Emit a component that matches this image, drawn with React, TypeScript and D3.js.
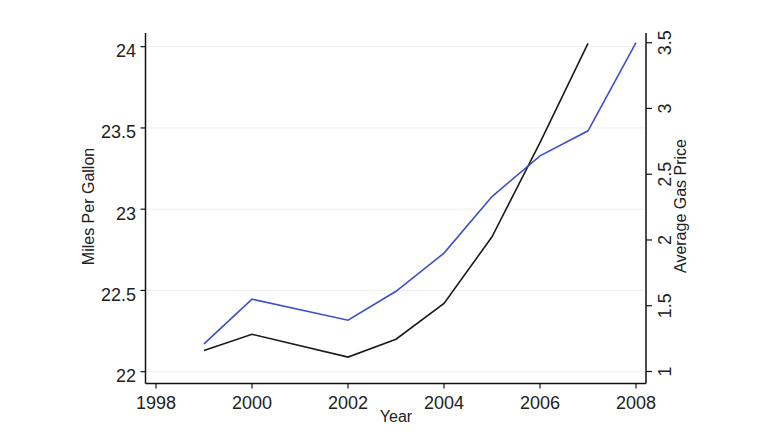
import React from "react";
import * as d3 from "d3";

const years = [1999, 2000, 2002, 2003, 2004, 2005, 2006, 2007, 2008];
const mpg = [22.13, 22.23, 22.09, 22.2, 22.42, 22.83, 23.41, 24.02];
const mpgYears = [1999, 2000, 2002, 2003, 2004, 2005, 2006, 2007];
const gasPrice = [1.21, 1.55, 1.39, 1.61, 1.9, 2.33, 2.64, 2.83, 3.5];
const xTicks = [1998, 2000, 2002, 2004, 2006, 2008];
const leftTicks = [22, 22.5, 23, 23.5, 24];
const rightTicks = [1, 1.5, 2, 2.5, 3, 3.5];

const W = 768;
const H = 432;
const font = "'Liberation Sans', Arial, Helvetica, sans-serif";

export default function App() {
  const x = d3.scaleLinear().domain([1998, 2008]).range([156, 636]);
  const yL = d3.scaleLinear().domain([22, 24]).range([371.7, 46.7]);
  const yR = d3.scaleLinear().domain([1, 3.5]).range([371.5, 42.7]);
  const left = 145.5;
  const right = 646;
  const bottom = 383.5;
  const top = 33;

  const lineMpg = d3
    .line<number>()
    .x((_, i) => x(mpgYears[i]))
    .y((d) => yL(d));
  const lineGas = d3
    .line<number>()
    .x((_, i) => x(years[i]))
    .y((d) => yR(d));

  return (
    <svg
      width={W}
      height={H}
      style={{ position: "fixed", left: 0, top: 0, background: "#fff" }}
      fontFamily={font}
    >
      <rect x={0} y={0} width={W} height={H} fill="#fff" />
      {leftTicks.map((t) => (
        <line
          key={"g" + t}
          x1={left}
          x2={right}
          y1={yL(t)}
          y2={yL(t)}
          stroke="#eeeeee"
          strokeWidth={1}
        />
      ))}
      <path d={lineMpg(mpg) || ""} fill="none" stroke="#1a1a1a" strokeWidth={1.6} />
      <path d={lineGas(gasPrice) || ""} fill="none" stroke="#3d4fcf" strokeWidth={1.6} />

      {/* axes */}
      <line x1={left} x2={left} y1={top} y2={bottom} stroke="#111" strokeWidth={1.5} />
      <line x1={right} x2={right} y1={top} y2={bottom} stroke="#111" strokeWidth={1.5} />
      <line x1={left} x2={right} y1={bottom} y2={bottom} stroke="#111" strokeWidth={1.5} />

      {leftTicks.map((t) => (
        <g key={"l" + t}>
          <line x1={left - 5} x2={left} y1={yL(t)} y2={yL(t)} stroke="#111" strokeWidth={1.2} />
          <text x={136} y={yL(t) + 10.5} textAnchor="end" fontSize={18} fill="#222">
            {t}
          </text>
        </g>
      ))}
      {rightTicks.map((t) => (
        <g key={"r" + t}>
          <line x1={right} x2={right + 6} y1={yR(t)} y2={yR(t)} stroke="#111" strokeWidth={1.2} />
          <text
            transform={`translate(671,${yR(t)}) rotate(-90)`}
            textAnchor="middle"
            fontSize={18}
            fill="#222"
          >
            {t}
          </text>
        </g>
      ))}
      {xTicks.map((t) => (
        <g key={"x" + t}>
          <line x1={x(t)} x2={x(t)} y1={bottom} y2={bottom + 5} stroke="#111" strokeWidth={1.2} />
          <text x={x(t)} y={409} textAnchor="middle" fontSize={18} fill="#222">
            {t}
          </text>
        </g>
      ))}

      <text x={396} y={422} textAnchor="middle" fontSize={16} fill="#222">
        Year
      </text>
      <text
        transform="translate(94,206.5) rotate(-90)"
        textAnchor="middle"
        fontSize={16}
        fill="#222"
      >
        Miles Per Gallon
      </text>
      <text
        transform="translate(686,206) rotate(-90)"
        textAnchor="middle"
        fontSize={16}
        fill="#222"
      >
        Average Gas Price
      </text>
    </svg>
  );
}
